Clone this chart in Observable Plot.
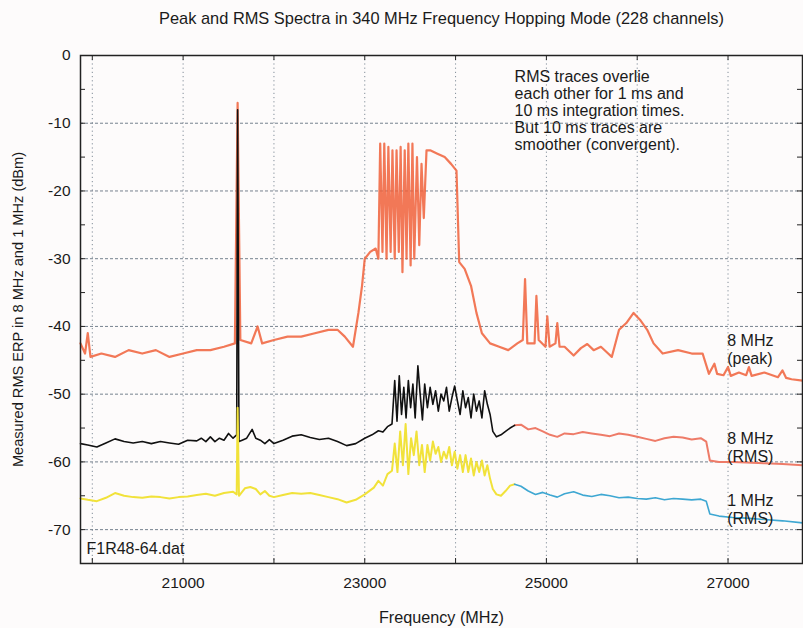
<!DOCTYPE html>
<html>
<head>
<meta charset="utf-8">
<script src="https://cdn.jsdelivr.net/npm/d3@7"></script>
<script src="https://cdn.jsdelivr.net/npm/@observablehq/plot@0.6"></script>
<style>
  html, body { margin: 0; padding: 0; background: #fdfbfb; }
  #chart svg { display: block; }
</style>
</head>
<body>
<div id="chart"></div>
<script>
// ---- Data ----
const peakFreq = [19870,19920,19950,19980,20100,20250,20400,20550,20700,20850,21000,21150,21300,21450,21570,21600,21630,21750,21820,21870,22000,22150,22300,22450,22600,22700,22780,22870,22930,22970,23000,23060,23120,23150,23170,23195,23215,23240,23260,23285,23305,23330,23350,23375,23395,23415,23440,23460,23480,23505,23525,23545,23575,23600,23625,23650,23680,23720,23800,23880,23950,24010,24040,24100,24170,24230,24290,24380,24480,24580,24680,24740,24765,24790,24870,24890,24915,24990,25010,25035,25100,25120,25145,25200,25300,25380,25450,25520,25600,25680,25720,25800,25880,25960,26030,26110,26180,26280,26450,26600,26720,26790,26850,26880,26950,27000,27030,27120,27200,27230,27260,27400,27550,27600,27640,27700,27820];
const peakDbm = [-42.5,-44,-41,-44.5,-44,-44.5,-43.5,-44,-43.5,-44.5,-44,-43.5,-43.5,-43,-42.5,-7,-42,-42.5,-40,-42.5,-42,-41.5,-41.5,-41,-40.5,-40.5,-41.5,-43,-38,-34,-30,-29,-28.5,-30,-13,-29,-13,-30,-13.5,-29,-14,-30,-14,-29,-13.5,-32,-14,-30,-13,-31,-13,-30,-15,-28,-16,-24,-14,-14,-14.5,-15,-16,-17,-30.5,-31.5,-34,-38,-41,-42.5,-43,-43.5,-42.5,-42,-33,-42.5,-42.5,-35.5,-42,-43,-38.5,-43,-42.5,-39.5,-43,-43,-44.3,-43.2,-42.6,-43.5,-43,-44,-44.5,-40.5,-39.5,-38,-39,-40.5,-42.5,-44,-43.5,-44,-44,-47,-45.5,-47,-47.2,-46,-47.3,-46.8,-47.2,-46,-47.3,-46.8,-47.5,-46.5,-47.6,-47.8,-48];

const rms8Freq = [19870,19950,20050,20150,20250,20350,20450,20550,20650,20750,20850,20950,21050,21150,21200,21250,21300,21350,21400,21450,21500,21550,21590,21600,21615,21650,21700,21760,21800,21850,21900,21950,22000,22100,22200,22300,22400,22500,22600,22700,22800,22900,23000,23080,23150,23200,23250,23300,23330,23355,23380,23405,23430,23455,23480,23505,23530,23555,23585,23610,23635,23660,23690,23720,23750,23780,23810,23840,23870,23900,23930,23960,23990,24020,24050,24080,24110,24140,24170,24200,24230,24260,24290,24320,24350,24380,24410,24450,24500,24550,24600,24650,24720,24800,24880,24960,25040,25120,25200,25300,25400,25500,25600,25700,25800,25900,26000,26100,26200,26300,26400,26500,26600,26700,26760,26800,26900,27050,27200,27400,27600,27820];
const rms8Dbm = [-57.3,-57.5,-57.8,-57.2,-56.6,-57,-57.2,-57,-57.3,-57,-57.2,-57.4,-56.8,-56.9,-56.5,-57,-56.3,-57,-56.5,-56.8,-55.8,-56.5,-56,-8,-57,-56.8,-56.5,-55.2,-56.5,-56.8,-57.3,-56.7,-57.3,-56.8,-56.2,-56,-56.4,-56.7,-56.5,-57,-57.6,-57.3,-56.5,-56,-55.4,-55.6,-54.8,-54.4,-48,-54,-47.3,-53,-49,-53.5,-48,-52,-48.5,-53.5,-45.8,-50,-53.8,-48.5,-52,-49,-51.5,-49.5,-52.5,-50,-51,-49,-52.5,-50.5,-48.8,-51,-53,-49.5,-52,-50.5,-53.5,-50,-52.5,-51,-53.5,-49.5,-51.5,-53,-55.5,-56.3,-56,-55.5,-55,-54.6,-54.5,-55.2,-55,-55.5,-56,-56.3,-55.8,-55.9,-55.6,-55.8,-56,-56.2,-55.8,-56,-56.3,-56.6,-56.9,-56.5,-56.3,-56.4,-56.7,-56.5,-57,-59.8,-60,-60,-60.1,-60.2,-60.3,-60.5];

const rms1Freq = [19870,19950,20050,20150,20250,20350,20450,20550,20650,20750,20850,20950,21050,21150,21250,21350,21450,21550,21590,21600,21615,21680,21740,21800,21850,21900,21950,22000,22100,22200,22300,22400,22500,22600,22700,22800,22900,23000,23100,23150,23200,23250,23300,23330,23360,23390,23420,23450,23480,23510,23540,23570,23600,23630,23660,23690,23720,23750,23780,23810,23840,23870,23900,23930,23960,23990,24020,24050,24080,24110,24140,24170,24200,24230,24260,24290,24320,24350,24380,24410,24450,24500,24550,24600,24650,24720,24800,24880,24960,25040,25120,25200,25300,25400,25500,25600,25700,25800,25900,26000,26100,26200,26300,26400,26500,26600,26700,26760,26800,26900,27050,27200,27400,27600,27820];
const rms1Dbm = [-65.4,-65.6,-65.8,-65.3,-64.6,-65,-65.2,-65.3,-65.1,-65.2,-65.4,-65.2,-65.1,-64.9,-64.7,-65,-64.6,-64.4,-64.8,-52,-65,-63.9,-63.7,-64,-64.8,-64.3,-65,-65.2,-64.9,-64.6,-64.7,-64.6,-64.9,-65.2,-65.5,-66,-65.6,-64.8,-63.8,-62.8,-63.5,-61.8,-61.3,-57.3,-61.5,-55.5,-60.5,-54.4,-61.8,-56.5,-59,-55.5,-60.5,-57.5,-61.5,-57.5,-59.8,-57,-58.8,-57.8,-60,-58.5,-59.5,-57.8,-60.5,-58.5,-61,-59,-61.5,-59,-61.5,-59.5,-62,-60,-61.5,-59.8,-62,-60.5,-62.5,-64,-64.8,-65,-64.3,-63.5,-63.3,-63.6,-64.3,-64.8,-64.5,-64.9,-65.2,-64.7,-64.4,-64.9,-65.1,-64.8,-65,-65.3,-65.2,-65.4,-65.5,-65.3,-65.6,-65.4,-65.5,-65.6,-65.5,-65.8,-67.7,-68,-68.2,-68.3,-68.5,-68.7,-69];

const splitFreq = 24650; // colour change of the RMS traces

const xTicks = [20000,21000,22000,23000,24000,25000,26000,27000];
const yTicks = [0,-5,-10,-15,-20,-25,-30,-35,-40,-45,-50,-55,-60,-65,-70,-75];
const yGrid = [-10,-20,-30,-40,-50,-60,-70];

const titleText = "Peak and RMS Spectra in 340 MHz Frequency Hopping Mode (228 channels)";
const xLabel = "Frequency (MHz)";
const yLabel = "Measured RMS ERP in 8 MHz and 1 MHz (dBm)";
const noteText = "RMS traces overlie\neach other for 1 ms and\n10 ms integration times.\nBut 10 ms traces are\nsmoother (convergent).";
const fileText = "F1R48-64.dat";
const seriesLabels = [
  {text: "8 MHz\n(peak)", f: 26991, v: -43.4},
  {text: "8 MHz\n(RMS)", f: 26991, v: -57.8},
  {text: "1 MHz\n(RMS)", f: 26991, v: -67.0}
];

// ---- tables ----
const peak = peakFreq.map((f, i) => ({f, v: peakDbm[i]}));
const rms8 = rms8Freq.map((f, i) => ({f, v: rms8Dbm[i]}));
const rms1 = rms1Freq.map((f, i) => ({f, v: rms1Dbm[i]}));
const rms8L = rms8.filter(d => d.f <= splitFreq), rms8R = rms8.filter(d => d.f >= splitFreq);
const rms1L = rms1.filter(d => d.f <= splitFreq), rms1R = rms1.filter(d => d.f >= splitFreq);

const font = "'Liberation Sans', Arial, Helvetica, sans-serif";
const W = 803, H = 628, mL = 80, mR = 1, mT = 55, mB = 65;
const innerW = W - mL - mR, innerH = H - mT - mB, tk = 5;

const chart = Plot.plot({
  width: W,
  height: H,
  marginLeft: mL,
  marginRight: mR,
  marginTop: mT,
  marginBottom: mB,
  style: {fontFamily: font, fontSize: "15px", background: "#fdfbfb", color: "#1a1a1a"},
  x: {domain: [19870, 27820]},
  y: {domain: [-75, 0]},
  marks: [
    Plot.gridX(xTicks, {stroke: "#5a6a7a", strokeOpacity: 0.75, strokeDasharray: "1.2,3", strokeWidth: 1}),
    Plot.gridY(yGrid, {stroke: "#4a5a6a", strokeOpacity: 0.75, strokeDasharray: "3,2", strokeWidth: 1}),
    Plot.line(peak, {x: "f", y: "v", stroke: "#f0603a", strokeWidth: 2.2, strokeOpacity: 0.85}),
    Plot.line(rms8R, {x: "f", y: "v", stroke: "#ee7b68", strokeWidth: 2}),
    Plot.line(rms8L, {x: "f", y: "v", stroke: "#111", strokeWidth: 1.6}),
    Plot.line(rms1L, {x: "f", y: "v", stroke: "#f1e23a", strokeWidth: 2}),
    Plot.line(rms1R, {x: "f", y: "v", stroke: "#3ea7d2", strokeWidth: 1.6}),
    Plot.frame({stroke: "#222", strokeWidth: 1.5}),
    // inward tick marks on all four sides
    Plot.tickX(xTicks, {x: d => d, insetTop: innerH - tk, stroke: "#222"}),
    Plot.tickX(xTicks, {x: d => d, insetBottom: innerH - tk, stroke: "#222"}),
    Plot.tickY(yTicks, {y: d => d, insetRight: innerW - tk, stroke: "#222"}),
    Plot.tickY(yTicks, {y: d => d, insetLeft: innerW - tk, stroke: "#222"}),
    Plot.axisX(xTicks, {anchor: "bottom", tickSize: 0, tickPadding: 13, fontSize: 15.5, tickFormat: d => d % 2000 === 1000 ? String(d) : "", label: null}),
    Plot.axisY(yTicks, {anchor: "left", tickSize: 0, tickPadding: 10, fontSize: 15.5, tickFormat: d => d % 10 === 0 ? String(d) : "", label: null}),
    Plot.text([titleText], {frameAnchor: "top", dy: -37, lineAnchor: "middle", text: d => d, fontSize: 16.4}),
    Plot.text([xLabel], {frameAnchor: "bottom", dy: 54, lineAnchor: "middle", text: d => d, fontSize: 16.2}),
    Plot.text([yLabel], {frameAnchor: "left", dx: -62, rotate: -90, textAnchor: "middle", text: d => d, fontSize: 14.6}),
    Plot.text([noteText], {x: 24650, y: -2.2, text: d => d, textAnchor: "start", lineAnchor: "top", lineHeight: 1.05, fontSize: 16}),
    Plot.text(seriesLabels, {x: "f", y: "v", text: "text", textAnchor: "start", lineHeight: 1.12, fontSize: 16}),
    Plot.text([fileText], {x: 19936, y: -72.8, text: d => d, textAnchor: "start", fontSize: 16})
  ]
});

document.getElementById("chart").append(chart);
</script>
</body>
</html>
